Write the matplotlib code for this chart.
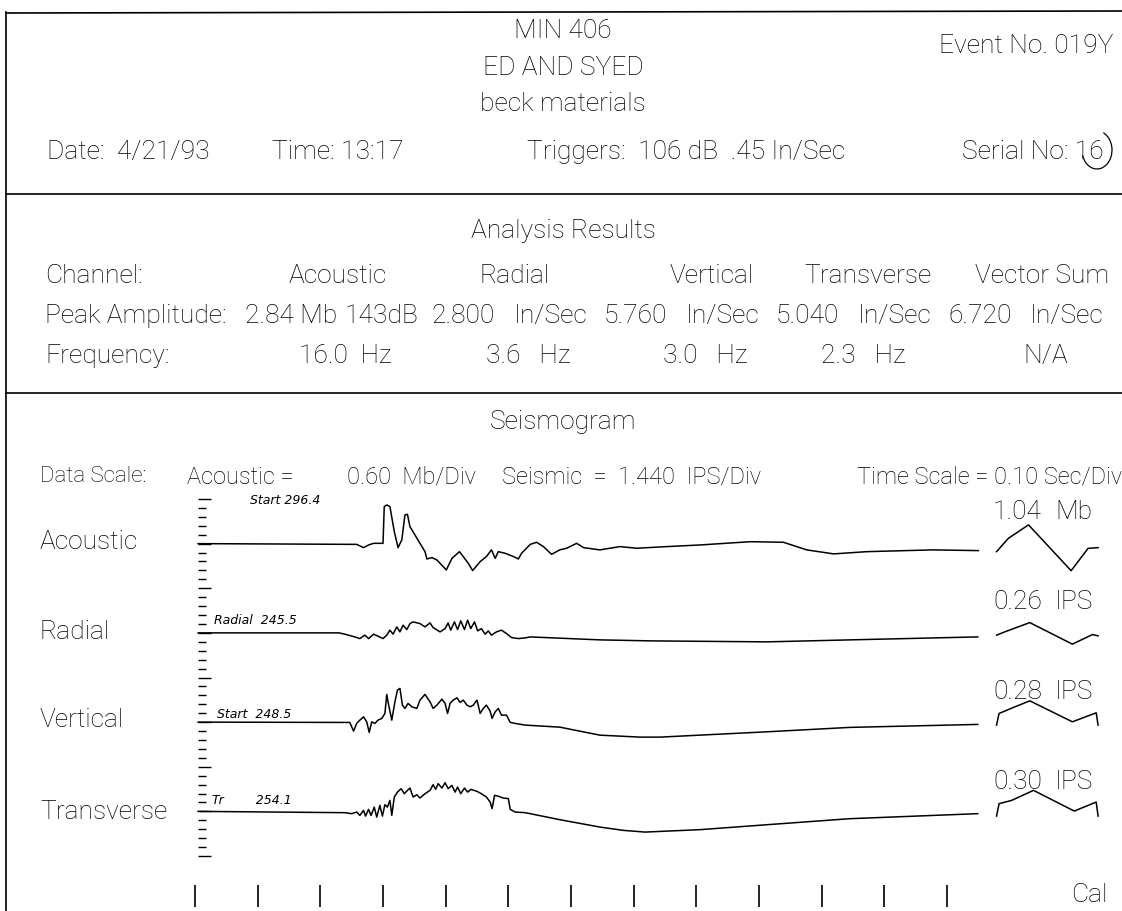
import matplotlib
matplotlib.use('Agg')
import matplotlib.pyplot as plt
from matplotlib import font_manager
from matplotlib.patches import Arc

W, H = 1122, 911

# ---- seismogram data (time in s, acoustic in Mb, seismic in IPS) ----
acoustic_t = [0.005, 0.258, 0.269, 0.277, 0.285, 0.300, 0.302, 0.306, 0.311, 0.318,
              0.324, 0.330, 0.335, 0.339, 0.343, 0.351, 0.359, 0.367, 0.370, 0.378,
              0.386, 0.401, 0.410, 0.422, 0.428, 0.436, 0.443, 0.455, 0.465, 0.473,
              0.479, 0.484, 0.495, 0.508, 0.516, 0.521, 0.535, 0.545, 0.556, 0.569,
              0.582, 0.593, 0.609, 0.620, 0.646, 0.678, 0.705, 0.753, 0.806, 0.886,
              0.939, 0.976, 1.019, 1.072, 1.178, 1.250]
acoustic_mb = [0.00, -0.05, -0.27, -0.09, 0.02, 0.02, 2.49, 2.60, 2.49, 0.81,
               -0.27, 0.25, 1.93, 1.97, 1.14, 0.58, 0.02, -0.54, -1.03, -0.94,
               -1.10, -1.77, -0.99, -0.54, -0.87, -1.32, -1.81, -1.21, -0.87, -0.42,
               -0.99, -0.54, -0.65, -0.87, -1.03, -0.65, -0.05, 0.09, -0.20, -0.72,
               -0.42, -0.31, 0.02, -0.27, -0.42, -0.20, -0.31, -0.20, -0.09, 0.13,
               0.09, -0.42, -0.69, -0.54, -0.42, -0.47]

radial_t = [0.005, 0.230, 0.239, 0.255, 0.263, 0.271, 0.277, 0.285, 0.292, 0.300,
            0.306, 0.311, 0.316, 0.322, 0.327, 0.332, 0.338, 0.343, 0.348, 0.359,
            0.367, 0.375, 0.380, 0.391, 0.399, 0.404, 0.408, 0.414, 0.419, 0.424,
            0.430, 0.435, 0.440, 0.446, 0.451, 0.457, 0.463, 0.468, 0.473, 0.481,
            0.489, 0.497, 0.505, 0.516, 0.527, 0.535, 0.646, 0.726, 0.913, 1.045,
            1.249]
radial_ips = [0.00, 0.00, -0.21, -0.65, -0.92, -0.37, -0.92, -0.21, -0.53, -0.92,
              -0.37, 0.44, -0.21, 0.97, 0.16, 1.24, 0.53, 1.50, 1.77, 1.50,
              0.97, 1.61, 0.85, 0.16, 0.69, 1.61, 0.44, 1.77, 0.53, 1.94,
              0.53, 2.05, 0.69, 1.77, 0.32, 0.69, -0.21, 0.32, -0.37, 0.16,
              0.44, -0.11, -0.76, -0.92, -0.81, -0.65, -1.13, -1.29, -1.45, -1.13,
              -0.65]

vertical_t = [0.005, 0.239, 0.247, 0.253, 0.258, 0.263, 0.269, 0.274, 0.278, 0.282,
              0.287, 0.292, 0.298, 0.303, 0.306, 0.308, 0.314, 0.319, 0.323, 0.327,
              0.331, 0.335, 0.340, 0.346, 0.354, 0.359, 0.367, 0.375, 0.380, 0.386,
              0.394, 0.399, 0.403, 0.407, 0.412, 0.418, 0.423, 0.428, 0.434, 0.439,
              0.444, 0.450, 0.455, 0.460, 0.465, 0.471, 0.474, 0.479, 0.484, 0.489,
              0.497, 0.503, 0.511, 0.527, 0.582, 0.646, 0.710, 0.742, 0.913, 1.045,
              1.249]
vertical_ips = [0.00, -0.05, -0.05, -1.45, -0.21, 0.32, 0.85, 0.05, -1.66, 0.05,
                -0.21, 0.32, 0.60, 1.40, 4.47, 3.27, 0.32, 3.27, 5.16, 5.44,
                2.74, 2.21, 3.02, 2.47, 2.21, 3.55, 4.47, 3.27, 2.21, 2.74,
                3.71, 3.02, 1.40, 3.02, 3.55, 3.92, 3.18, 3.55, 2.74, 2.47,
                2.74, 3.55, 1.40, 2.21, 2.74, 1.77, 0.60, 1.66, 2.21, 1.13,
                1.13, -0.05, -0.21, -0.48, -0.81, -2.10, -2.42, -2.42, -1.56, -0.85,
                -0.37]

transverse_t = [0.005, 0.239, 0.250, 0.258, 0.263, 0.269, 0.272, 0.277, 0.281, 0.286,
                0.290, 0.295, 0.299, 0.303, 0.307, 0.311, 0.314, 0.318, 0.323, 0.329,
                0.334, 0.339, 0.343, 0.348, 0.354, 0.359, 0.367, 0.375, 0.380, 0.384,
                0.388, 0.394, 0.399, 0.404, 0.410, 0.415, 0.419, 0.424, 0.430, 0.435,
                0.440, 0.450, 0.457, 0.465, 0.471, 0.474, 0.478, 0.483, 0.492, 0.500,
                0.503, 0.511, 0.527, 0.582, 0.646, 0.683, 0.718, 0.806, 0.913, 1.045,
                1.249]
transverse_ips = [0.00, -0.21, -0.37, -0.11, -0.65, 0.16, -0.76, 0.32, -0.65, 0.69,
                  -0.92, 0.97, -0.76, 1.08, 0.69, 1.77, -0.65, 2.31, 3.11, 3.66,
                  2.85, 3.39, 3.76, 2.31, 2.69, 2.15, 2.85, 3.39, 4.31, 3.55,
                  4.47, 3.76, 4.63, 3.66, 4.19, 3.11, 3.92, 2.85, 3.76, 3.11,
                  3.55, 3.23, 2.85, 2.31, 1.50, 0.44, 2.58, 2.47, 2.15, 2.05,
                  0.32, -0.11, -0.21, -1.34, -2.53, -3.06, -3.34, -2.95, -2.15, -1.18,
                  -0.37]

# calibration pulses
cal_acoustic_t = [1.279, 1.298, 1.330, 1.398, 1.425, 1.441]
cal_acoustic_mb = [-0.54, 0.36, 1.26, -1.82, -0.32, -0.27]
cal_radial_t = [1.279, 1.292, 1.332, 1.400, 1.432, 1.441]
cal_radial_ips = [-0.37, 0.16, 1.66, -1.82, -0.27, -0.48]
cal_vertical_t = [1.279, 1.283, 1.306, 1.332, 1.400, 1.438, 1.441]
cal_vertical_ips = [-0.48, 1.40, 2.37, 3.44, 0.05, 1.50, -0.48]
cal_transverse_t = [1.279, 1.283, 1.303, 1.338, 1.403, 1.438, 1.441]
cal_transverse_ips = [-0.76, 1.24, 1.77, 3.39, 0.05, 1.50, -0.76]

cal_values = ['1.04', '0.26', '0.28', '0.30']
cal_units = ['Mb', 'IPS', 'IPS', 'IPS']

ACOUSTIC_SCALE = 0.60   # Mb/Div
SEISMIC_SCALE = 1.440   # IPS/Div
TIME_SCALE = 0.10       # Sec/Div
N_TIME_DIVS = 12
N_AMP_DIVS = 40

channels = ['Acoustic', 'Radial', 'Vertical', 'Transverse']
baselines = [35, 25, 15, 5]   # divisions

# analysis table
table_channels = ['Acoustic', 'Radial', 'Vertical', 'Transverse', 'Vector Sum']
peak_values = ['2.800', '5.760', '5.040', '6.720']
freq_values = ['16.0  Hz', '3.6   Hz', '3.0   Hz', '2.3   Hz', 'N/A']

names = {f.name for f in font_manager.fontManager.ttflist}
FONT = next(n for n in ['Roboto', 'Liberation Sans', 'DejaVu Sans'] if n in names)
plt.rcParams['font.family'] = [FONT, 'DejaVu Sans']
plt.rcParams['font.weight'] = 'light'
FS = 19

fig = plt.figure(figsize=(W / 100, H / 100), dpi=100)
fig.patch.set_facecolor('white')

# page overlay in pixel coordinates
ax = fig.add_axes([0, 0, 1, 1])
ax.set_xlim(0, W)
ax.set_ylim(H, 0)
ax.axis('off')

# seismogram axes: t=0 at x=195 px, 0.1 s per 62.67 px; div 0 at y=856 px, 8.925 px per div
T0_PX, PX_PER_S, DIV0_PX, PX_PER_DIV = 195, 626.7, 856, 8.925
L, R, T, B = 180, 1110, 480, 911
sx = fig.add_axes([L / W, 1 - B / H, (R - L) / W, (B - T) / H])
sx.set_xlim((L - T0_PX) / PX_PER_S, (R - T0_PX) / PX_PER_S)
sx.set_ylim((DIV0_PX - B) / PX_PER_DIV, (DIV0_PX - T) / PX_PER_DIV)
sx.axis('off')
sx.patch.set_alpha(0)

lw_line = 1.2
# frame lines
ax.plot([6, W], [13, 11], color='black', lw=lw_line)
ax.plot([6, W], [194, 194], color='black', lw=lw_line)
ax.plot([6, W], [393, 393], color='black', lw=lw_line)
ax.plot([6, 6], [12, H], color='black', lw=lw_line)

# header
ax.text(563, 31, 'MIN 406', ha='center', va='center', fontsize=FS)
ax.text(563, 68, 'ED AND SYED', ha='center', va='center', fontsize=FS)
ax.text(563, 104, 'beck materials', ha='center', va='center', fontsize=FS)
ax.text(1113, 46, 'Event No. 019Y', ha='right', va='center', fontsize=FS)
ax.text(47, 152, 'Date:  4/21/93', ha='left', va='center', fontsize=FS)
ax.text(272, 152, 'Time: 13:17', ha='left', va='center', fontsize=FS)
ax.text(527, 152, 'Triggers:  106 dB  .45 In/Sec', ha='left', va='center', fontsize=FS)
ax.text(962, 152, 'Serial No: 16', ha='left', va='center', fontsize=FS)
ax.add_patch(Arc((1097, 150), 30, 38, theta1=-70, theta2=160, color='black', lw=0.9))

# analysis results
ax.text(563, 231, 'Analysis Results', ha='center', va='center', fontsize=FS)
ax.text(45, 276, 'Channel:', ha='left', va='center', fontsize=FS)
for cx, name in zip([338, 515, 712, 868, 1042], table_channels):
    ax.text(cx, 276, name, ha='center', va='center', fontsize=FS)
ax.text(45, 316, 'Peak Amplitude:', ha='left', va='center', fontsize=FS)
ax.text(245, 316, '2.84 Mb', ha='left', va='center', fontsize=FS)
ax.text(345, 316, '143dB', ha='left', va='center', fontsize=FS)
for px, val in zip([432, 604, 776, 948], peak_values):
    ax.text(px, 316, val, ha='left', va='center', fontsize=FS)
    ax.text(px + 82, 316, 'In/Sec', ha='left', va='center', fontsize=FS)
ax.text(45, 356, 'Frequency:', ha='left', va='center', fontsize=FS)
for cx, val in zip([345, 528, 705, 863, 1046], freq_values):
    ax.text(cx, 356, val, ha='center', va='center', fontsize=FS)

# seismogram header
ax.text(563, 422, 'Seismogram', ha='center', va='center', fontsize=FS)
ax.text(40, 477, 'Data Scale:', ha='left', va='center', fontsize=16)
ax.text(187, 477, 'Acoustic =', ha='left', va='center', fontsize=17)
ax.text(347, 477, f'{ACOUSTIC_SCALE:.2f}  Mb/Div', ha='left', va='center', fontsize=17)
ax.text(502, 477, f'Seismic  =  {SEISMIC_SCALE:.3f}  IPS/Div', ha='left', va='center', fontsize=17)
ax.text(1122, 477, f'Time Scale = {TIME_SCALE:.2f} Sec/Div', ha='right', va='center', fontsize=17)

# amplitude scale column
divs = list(range(N_AMP_DIVS + 1))
short = [d for d in divs if d % 5]
long_ = [d for d in divs if d % 5 == 0]
sx.hlines(short, 0.005, 0.017, color='black', lw=1.0)
sx.hlines(long_, 0.005, 0.026, color='black', lw=1.0)

# time ticks
tick_t = [i * TIME_SCALE for i in range(N_TIME_DIVS + 1)]
sx.vlines(tick_t, (DIV0_PX - 907) / PX_PER_DIV, (DIV0_PX - 885) / PX_PER_DIV,
          color='black', lw=1.2)

traces = [(acoustic_t, acoustic_mb, ACOUSTIC_SCALE, cal_acoustic_t, cal_acoustic_mb),
          (radial_t, radial_ips, SEISMIC_SCALE, cal_radial_t, cal_radial_ips),
          (vertical_t, vertical_ips, SEISMIC_SCALE, cal_vertical_t, cal_vertical_ips),
          (transverse_t, transverse_ips, SEISMIC_SCALE, cal_transverse_t, cal_transverse_ips)]
for (t, amp, scale, ct, ca), base in zip(traces, baselines):
    sx.plot(t, [base + a / scale for a in amp], color='black', lw=1.1)
    sx.plot(ct, [base + a / scale for a in ca], color='black', lw=1.1)

# channel labels and cal labels
for name, y in zip(channels, [542, 632, 720, 812]):
    ax.text(40, y, name, ha='left', va='center', fontsize=FS)
for val, unit, y in zip(cal_values, cal_units, [512, 602, 692, 782]):
    ax.text(993, y, val, ha='left', va='center', fontsize=FS)
    ax.text(1055, y, unit, ha='left', va='center', fontsize=FS)
ax.text(1071, 895, 'Cal', ha='left', va='center', fontsize=FS)

# handwritten start notes
hand = dict(ha='left', va='center', fontsize=9, style='italic', family='DejaVu Sans')
ax.text(250, 501, 'Start 296.4', **hand)
ax.text(214, 621, 'Radial  245.5', **hand)
ax.text(217, 715, 'Start  248.5', **hand)
ax.text(212, 800, 'Tr        254.1', **hand)

fig.savefig('out.png', dpi=100, facecolor='white')
